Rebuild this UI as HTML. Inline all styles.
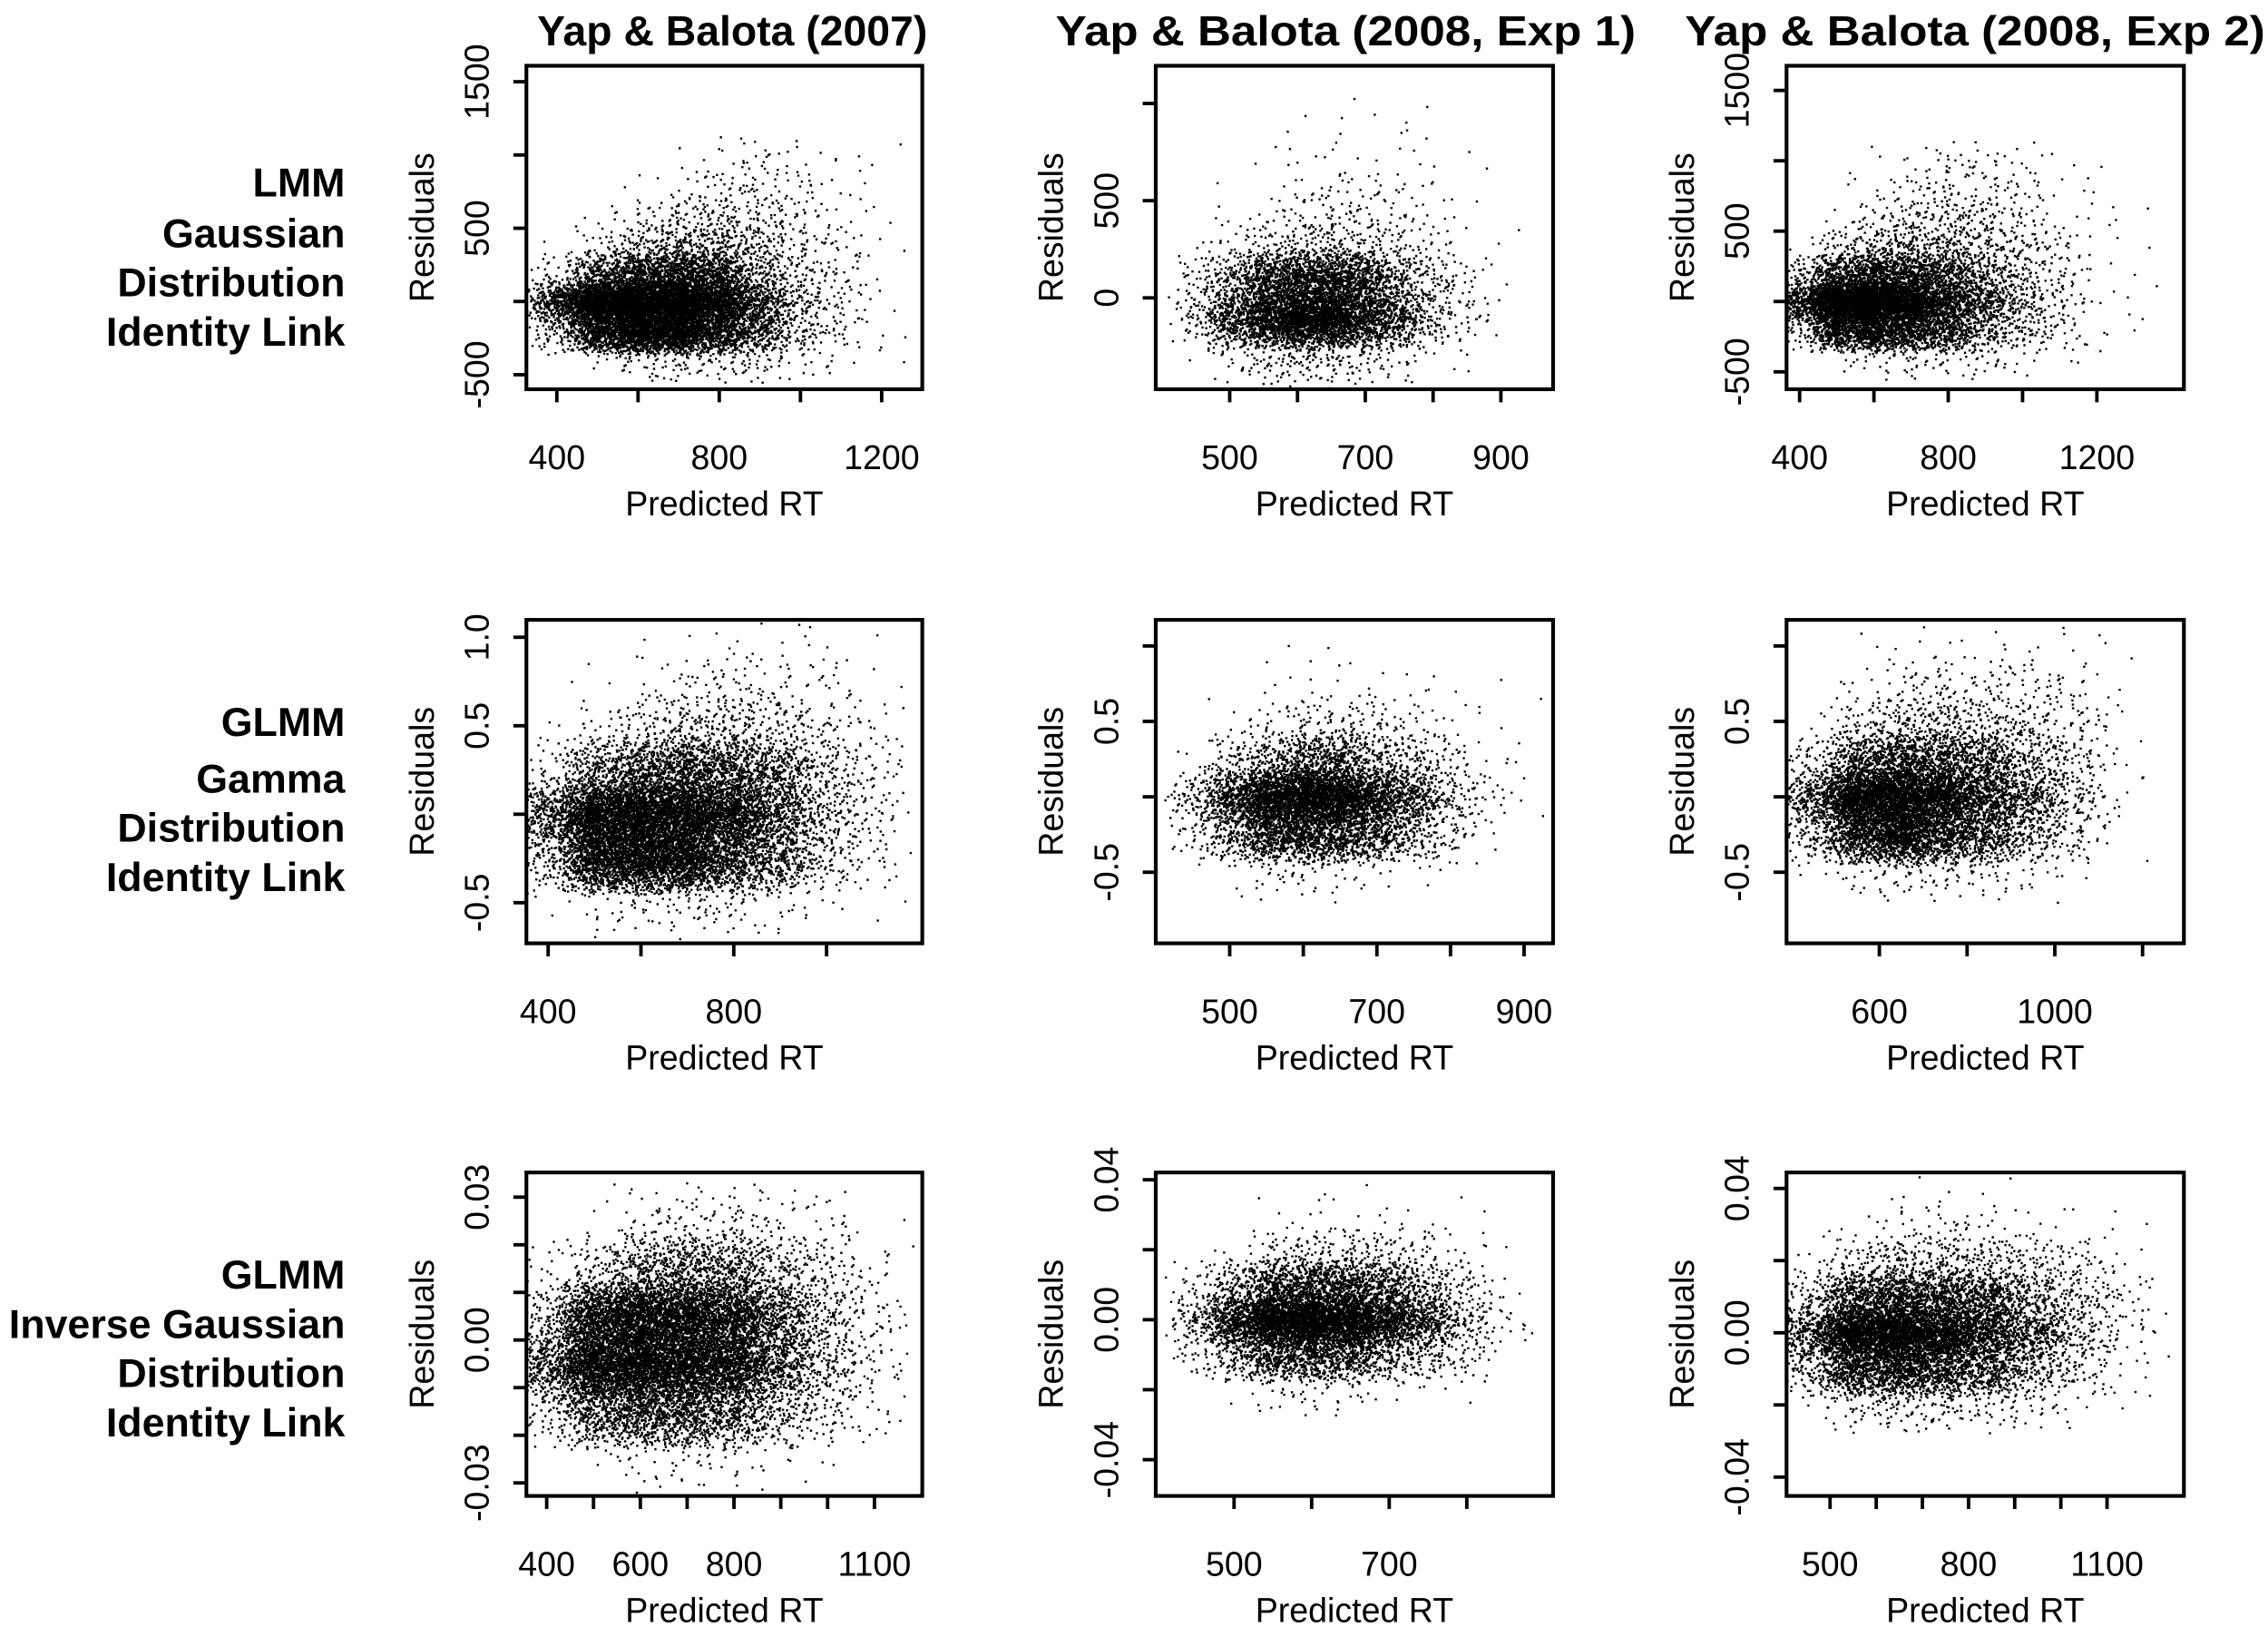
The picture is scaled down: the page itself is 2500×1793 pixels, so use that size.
<!DOCTYPE html>
<html><head><meta charset="utf-8"><style>
html,body{margin:0;padding:0;background:#fff}
svg{display:block}
text{font-family:"Liberation Sans",Arial,sans-serif;fill:#000}
.b{font-weight:bold;font-size:28px}
.h{font-weight:bold;font-size:29px}
.t{font-size:23.5px}
</style></head><body>
<svg id="fig" width="2500" height="1793" viewBox="0 0 1564 1121" xmlns="http://www.w3.org/2000/svg">
<g>
<text class="h" x="505" y="31" text-anchor="middle">Yap &amp; Balota (2007)</text>
<text class="h" x="928" y="31" text-anchor="middle" textLength="400" lengthAdjust="spacingAndGlyphs">Yap &amp; Balota (2008, Exp 1)</text>
<text class="h" x="1362" y="31" text-anchor="middle" textLength="400" lengthAdjust="spacingAndGlyphs">Yap &amp; Balota (2008, Exp 2)</text>
</g>
<g text-anchor="end">
<text class="b" x="238" y="135">LMM</text>
<text class="b" x="238" y="170">Gaussian</text>
<text class="b" x="238" y="204">Distribution</text>
<text class="b" x="238" y="238">Identity Link</text>
<text class="b" x="238" y="507">GLMM</text>
<text class="b" x="238" y="546">Gamma</text>
<text class="b" x="238" y="580">Distribution</text>
<text class="b" x="238" y="614">Identity Link</text>
<text class="b" x="238" y="888">GLMM</text>
<text class="b" x="238" y="922">Inverse Gaussian</text>
<text class="b" x="238" y="956">Distribution</text>
<text class="b" x="238" y="990">Identity Link</text>
</g>
</svg>
<script>
// ---- data: density counts (rows top->bottom) ----
const p1_xbins=[400,500,600,700,800,900,1000,1100,1200];
const p1_ybins=[1000,800,600,400,200,0,-200,-400];
const p1_counts=[[0,0,0,1,3,4,3,2,1],[0,0,1,3,6,6,4,2,1],[0,1,4,10,14,10,6,3,1],[1,6,20,30,30,18,8,4,1],[8,40,70,80,60,30,12,5,1],[60,150,160,140,100,50,20,6,2],[20,90,110,100,80,40,16,6,2],[0,3,8,10,10,8,4,2,1]];
const p1_xticks=[400,600,800,1000,1200];const p1_xlabels=["400","","800","","1200"];
const p1_yticks=[-500,0,500,1000,1500];const p1_ylabels=["-500","","500","","1500"];

const p2_xbins=[450,500,550,600,650,700,750,800,850,900];
const p2_ybins=[900,700,500,300,100,-100,-300];
const p2_counts=[[0,0,0,1,2,1,1,1,0,0],[0,0,1,2,3,3,2,2,1,0],[0,1,2,4,6,5,4,3,1,0],[1,4,8,14,16,12,8,4,2,1],[10,30,60,80,80,60,35,15,5,1],[15,50,90,110,100,80,45,20,6,1],[1,5,12,16,14,10,6,3,1,0]];
const p2_xticks=[500,600,700,800,900];const p2_xlabels=["500","","700","","900"];
const p2_yticks=[0,500,1000];const p2_ylabels=["0","500",""];

const p3_xbins=[400,500,600,700,800,900,1000,1100,1200,1300];
const p3_ybins=[1000,800,600,400,200,0,-200,-400];
const p3_counts=[[0,0,1,3,4,4,3,2,1,0],[0,1,2,5,6,5,4,2,1,0],[0,2,6,10,12,10,6,3,1,1],[2,10,20,25,22,16,10,5,2,1],[15,50,70,60,45,30,15,6,2,1],[60,150,150,110,70,40,20,8,2,1],[15,70,90,70,50,30,15,6,2,1],[0,2,5,6,6,5,3,2,1,0]];
const p3_xticks=[400,600,800,1000,1200];const p3_xlabels=["400","","800","","1200"];
const p3_yticks=[-500,0,500,1000,1500];const p3_ylabels=["-500","","500","","1500"];

const p4_xbins=[400,500,600,700,800,900,1000,1100];
const p4_ybins=[1.0,0.75,0.5,0.25,0,-0.25,-0.5];
const p4_counts=[[0,0,1,2,3,2,2,1],[0,1,3,6,8,6,4,2],[1,6,15,25,25,18,10,4],[10,40,70,80,70,45,25,8],[60,140,150,130,100,60,30,10],[30,100,120,110,80,45,20,6],[1,4,8,10,8,5,3,1]];
const p4_xticks=[400,600,800,1000];const p4_xlabels=["400","","800",""];
const p4_yticks=[-0.5,0,0.5,1.0];const p4_ylabels=["-0.5","","0.5","1.0"];

const p5_xbins=[450,500,550,600,650,700,750,800,850,900];
const p5_ybins=[1.0,0.75,0.5,0.25,0,-0.25,-0.5];
const p5_counts=[[0,0,0,1,1,0,0,0,0,0],[0,0,1,2,3,2,2,1,1,0],[0,2,5,8,10,8,5,3,1,1],[3,15,30,40,40,30,18,8,3,1],[20,60,100,120,110,80,45,18,5,1],[8,35,60,70,60,45,25,10,3,0],[0,2,4,5,4,3,2,1,0,0]];
const p5_xticks=[500,600,700,800,900];const p5_xlabels=["500","","700","","900"];
const p5_yticks=[-0.5,0,0.5,1.0];const p5_ylabels=["-0.5","","0.5",""];

const p6_xbins=[450,550,650,750,850,950,1050,1150];
const p6_ybins=[1.0,0.75,0.5,0.25,0,-0.25,-0.5];
const p6_counts=[[0,1,2,3,3,3,2,1],[0,3,6,8,8,6,4,1],[2,12,22,25,20,14,8,2],[15,50,70,60,45,30,15,3],[50,130,140,100,70,40,18,3],[25,90,100,80,55,30,12,2],[1,5,8,8,6,4,2,0]];
const p6_xticks=[600,800,1000,1200];const p6_xlabels=["600","","1000",""];
const p6_yticks=[-0.5,0,0.5,1.0];const p6_ylabels=["-0.5","","0.5",""];

const p7_xbins=[400,500,600,700,800,900,1000,1100];
const p7_ybins=[0.035,0.025,0.015,0.005,-0.005,-0.015,-0.025];
const p7_counts=[[0,0,1,2,2,1,1,0],[0,2,6,10,10,7,4,1],[4,20,40,50,45,30,15,4],[30,100,130,120,100,60,30,8],[60,140,150,130,100,60,30,8],[15,60,80,75,55,35,15,4],[0,2,5,6,5,3,2,0]];
const p7_xticks=[400,500,600,700,800,900,1000,1100];const p7_xlabels=["400","","600","","800","","","1100"];
const p7_yticks=[-0.03,-0.02,-0.01,0,0.01,0.02,0.03];const p7_ylabels=["-0.03","","","0.00","","","0.03"];

const p8_xbins=[450,500,550,600,650,700,750,800,850];
const p8_ybins=[0.04,0.03,0.02,0.01,0,-0.01,-0.02];
const p8_counts=[[0,0,0,0,1,0,0,0,0],[0,0,1,2,3,2,1,1,0],[0,3,8,12,12,10,6,3,1],[8,30,50,60,55,40,25,10,2],[25,80,120,130,120,90,50,20,4],[6,30,50,55,50,35,20,8,1],[0,2,4,5,4,3,2,1,0]];
const p8_xticks=[500,600,700,800];const p8_xlabels=["500","","700",""];
const p8_yticks=[-0.04,-0.02,0,0.02,0.04];const p8_ylabels=["-0.04","","0.00","","0.04"];

const p9_xbins=[450,550,650,750,850,950,1050,1150];
const p9_ybins=[0.04,0.03,0.02,0.01,0,-0.01,-0.02];
const p9_counts=[[0,0,1,1,1,0,0,0],[0,2,4,5,4,3,2,1],[3,15,25,25,20,14,8,3],[20,60,80,70,55,35,18,5],[50,130,140,110,80,45,20,5],[25,80,90,70,50,30,12,3],[2,10,14,12,9,6,3,1]];
const p9_xticks=[500,600,700,800,900,1000,1100];const p9_xlabels=["500","","","800","","","1100"];
const p9_yticks=[-0.04,-0.02,0,0.02,0.04];const p9_ylabels=["-0.04","","0.00","","0.04"];

// ---- layout (pixel calibration, not data) ----
const layout=[
 {d:[p1_xbins,p1_ybins,p1_counts,p1_xticks,p1_xlabels,p1_yticks,p1_ylabels],box:[363,45,636,268],xa:[400,384,1200,608],ya:[500,157,-500,258]},
 {d:[p2_xbins,p2_ybins,p2_counts,p2_xticks,p2_xlabels,p2_yticks,p2_ylabels],box:[797,45,1071,268],xa:[500,848,900,1035],ya:[500,138,0,205]},
 {d:[p3_xbins,p3_ybins,p3_counts,p3_xticks,p3_xlabels,p3_yticks,p3_ylabels],box:[1232,45,1506,268],xa:[400,1241,1200,1446],ya:[500,159,-500,256]},
 {d:[p4_xbins,p4_ybins,p4_counts,p4_xticks,p4_xlabels,p4_yticks,p4_ylabels],box:[363,427,636,650],xa:[400,378,800,506],ya:[0.5,500,-0.5,622]},
 {d:[p5_xbins,p5_ybins,p5_counts,p5_xticks,p5_xlabels,p5_yticks,p5_ylabels],box:[797,427,1071,650],xa:[500,848,900,1051],ya:[0.5,497,-0.5,601]},
 {d:[p6_xbins,p6_ybins,p6_counts,p6_xticks,p6_xlabels,p6_yticks,p6_ylabels],box:[1232,427,1506,650],xa:[600,1296,1000,1417],ya:[0.5,497,-0.5,601]},
 {d:[p7_xbins,p7_ybins,p7_counts,p7_xticks,p7_xlabels,p7_yticks,p7_ylabels],box:[363,808,636,1031],xa:[400,377,1100,603],ya:[0.03,825,-0.03,1022]},
 {d:[p8_xbins,p8_ybins,p8_counts,p8_xticks,p8_xlabels,p8_yticks,p8_ylabels],box:[797,808,1071,1031],xa:[500,851,700,958],ya:[0.04,813,-0.04,1006]},
 {d:[p9_xbins,p9_ybins,p9_counts,p9_xticks,p9_xlabels,p9_yticks,p9_ylabels],box:[1232,808,1506,1031],xa:[500,1262,1100,1453],ya:[0.04,819,-0.04,1018]}
];
const NS="http://www.w3.org/2000/svg";
const svg=document.getElementById('fig');
function mk(tag,attrs,parent){const e=document.createElementNS(NS,tag);for(const k in attrs)e.setAttribute(k,attrs[k]);parent.appendChild(e);return e;}
function halton(i,b){let f=1,r=0;while(i>0){f/=b;r+=f*(i%b);i=Math.floor(i/b);}return r;}
const SPREAD=0.85;
function mult(c){return c>=100?8:c>=40?6:c>3?4:1.5;}
layout.forEach((L,pi)=>{
 const [xb,yb,cnt,xt,xl,yt,yl]=L.d;
 const [x0,y0,x1,y1]=L.box;
 const sx=v=>L.xa[1]+(v-L.xa[0])*(L.xa[3]-L.xa[1])/(L.xa[2]-L.xa[0]);
 const sy=v=>L.ya[1]+(v-L.ya[0])*(L.ya[3]-L.ya[1])/(L.ya[2]-L.ya[0]);
 const g=mk('g',{},svg);
 
 
 const cp='clip'+pi;
 const c=mk('clipPath',{id:cp},g);mk('rect',{x:x0+1,y:y0+1,width:x1-x0-2,height:y1-y0-2},c);
 const pts=mk('g',{'clip-path':'url(#'+cp+')'},g);
 
 
 const dxb=xb[1]-xb[0], dyb=yb[0]-yb[1];
 let path='';let seed=pi*9973+17;
 for(let r=0;r<yb.length;r++)for(let q=0;q<xb.length;q++){
  const n=Math.round(cnt[r][q]*mult(cnt[r][q]));
  const cx=sx(xb[q]),cy=sy(yb[r]);
  const w=Math.abs(sx(xb[q]+dxb)-cx), h=Math.abs(sy(yb[r]-dyb)-cy);
  for(let k=0;k<n;k++){
   seed++;
   const px=cx+(halton(seed,2)+halton(seed,5)-1)*w*SPREAD;
   const py=cy+(halton(seed,3)+halton(seed,7)-1)*h*SPREAD;
   path+='M'+px.toFixed(1)+' '+py.toFixed(1)+'h1.5v1.5h-1.5z';
  }
 }
 mk('path',{d:path,fill:'#000'},pts);
 const box=mk('rect',{x:x0,y:y0,width:x1-x0,height:y1-y0,fill:'none',stroke:'#000','stroke-width':2.6},g);
 
 
 const xa=mk('g',{},g);
 
 
 xt.forEach((v,i)=>{const X=sx(v);mk('line',{x1:X,y1:y1,x2:X,y2:y1+9,stroke:'#000','stroke-width':2.4},xa);
  if(xl[i]){const t=mk('text',{x:X,y:y1+55,'text-anchor':'middle',class:'t'},xa);t.textContent=xl[i];}});
 const xt2=mk('text',{x:(x0+x1)/2,y:y1+87,'text-anchor':'middle',class:'t'},xa);xt2.textContent='Predicted RT';
 
 
 const ya=mk('g',{},g);
 
 
 yt.forEach((v,i)=>{const Y=sy(v);mk('line',{x1:x0,y1:Y,x2:x0-9,y2:Y,stroke:'#000','stroke-width':2.4},ya);
  if(yl[i]){const t=mk('text',{x:0,y:0,'text-anchor':'middle',class:'t',transform:'translate('+(x0-26)+','+Y+') rotate(-90)'},ya);t.textContent=yl[i];}});
 const yt2=mk('text',{x:0,y:0,'text-anchor':'middle',class:'t',transform:'translate('+(x0-64)+','+((y0+y1)/2)+') rotate(-90)'},ya);yt2.textContent='Residuals';
 
 
});
</script>
</body></html>
